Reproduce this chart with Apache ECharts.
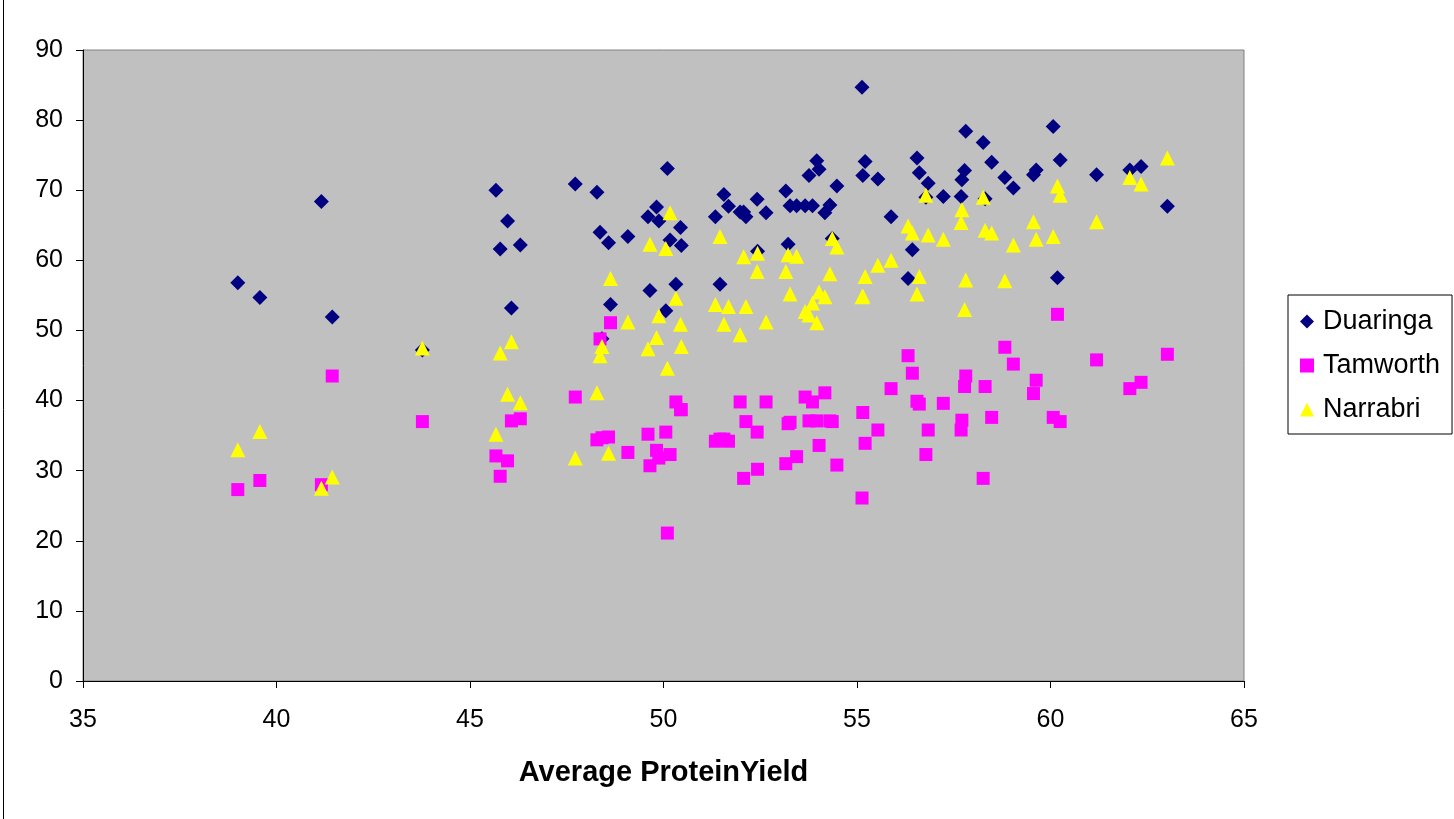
<!DOCTYPE html>
<html>
<head>
<meta charset="utf-8">
<script src="https://cdn.jsdelivr.net/npm/echarts@6/dist/echarts.min.js"></script>
<style>
  html, body { margin: 0; padding: 0; background: #fff; }
  #chart { width: 1454px; height: 819px; }
</style>
</head>
<body>
<div id="chart"></div>
<script>
// Average protein yield per site (x shared by the three sites)
const proteinYield = [39.00, 39.57, 41.16, 41.44, 43.77, 45.67, 45.78, 45.97, 46.07, 46.30,
  47.72, 48.28, 48.36, 48.41, 48.58, 48.63, 49.08, 49.60, 49.65, 49.82,
  49.88, 50.06, 50.10, 50.17, 50.32, 50.44, 50.46, 51.34, 51.46, 51.56,
  51.68, 51.98, 52.07, 52.13, 52.42, 52.43, 52.65, 53.16, 53.22, 53.27,
  53.44, 53.66, 53.76, 53.85, 53.96, 54.02, 54.17, 54.30, 54.36, 54.48,
  55.13, 55.15, 55.21, 55.54, 55.88, 56.32, 56.43, 56.55, 56.61, 56.78,
  56.84, 57.23, 57.69, 57.71, 57.78, 57.81, 58.26, 58.31, 58.48, 58.82,
  59.04, 59.56, 59.63, 60.07, 60.18, 60.25, 61.19, 62.05, 62.34, 63.02];

const duaringa = [56.8, 54.7, 68.4, 51.9, 47.2, 70.0, 61.6, 65.6, 53.2, 62.2,
  70.9, 69.7, 64.0, 48.8, 62.5, 53.7, 63.4, 66.2, 55.7, 67.6,
  65.6, 52.8, 73.1, 62.9, 56.6, 64.7, 62.1, 66.2, 56.6, 69.4,
  67.7, 66.9, 66.9, 66.2, 68.7, 61.3, 66.8, 69.9, 62.3, 67.8,
  67.8, 67.8, 72.1, 67.8, 74.2, 73.0, 66.8, 67.9, 63.1, 70.6,
  84.7, 72.1, 74.1, 71.6, 66.2, 57.4, 61.5, 74.6, 72.5, 69.0,
  71.0, 69.1, 69.1, 71.5, 72.8, 78.4, 76.8, 68.8, 74.0, 71.8,
  70.3, 72.2, 72.9, 79.1, 57.5, 74.3, 72.2, 72.9, 73.4, 67.7];

const tamworth = [27.3, 28.6, 28.0, 43.5, 37.0, 32.1, 29.2, 31.4, 37.1, 37.4,
  40.5, 34.4, 48.8, 34.7, 34.8, 51.1, 32.6, 35.2, 30.7, 32.9,
  31.8, 35.5, 21.1, 32.3, 39.8, 38.7, 38.7, 34.2, 34.5, 34.5,
  34.2, 39.8, 28.9, 37.0, 35.5, 30.2, 39.8, 31.0, 36.7, 36.9,
  32.0, 40.5, 37.1, 39.8, 37.1, 33.6, 41.1, 37.1, 37.0, 30.8,
  26.1, 38.3, 33.9, 35.8, 41.7, 46.4, 43.9, 39.9, 39.5, 32.3,
  35.8, 39.6, 35.8, 37.2, 42.0, 43.5, 28.9, 42.0, 37.6, 47.6,
  45.2, 41.0, 42.9, 37.6, 52.3, 37.0, 45.8, 41.7, 42.6, 46.6];

const narrabri = [33.0, 35.6, 27.5, 29.1, 47.5, 35.2, 46.8, 40.9, 48.4, 39.7,
  31.8, 41.1, 46.4, 47.7, 32.5, 57.4, 51.2, 47.4, 62.3, 49.0,
  52.1, 61.7, 44.6, 66.8, 54.6, 50.9, 47.7, 53.7, 63.4, 50.9,
  53.4, 49.4, 60.5, 53.4, 58.4, 61.0, 51.2, 58.4, 60.8, 55.2,
  60.6, 52.7, 52.2, 53.9, 51.1, 55.5, 54.8, 58.1, 63.1, 61.9,
  54.8, 54.9, 57.7, 59.3, 60.0, 64.9, 63.9, 55.2, 57.7, 69.3,
  63.6, 63.0, 65.4, 67.2, 53.0, 57.2, 69.0, 64.3, 63.9, 57.1,
  62.2, 65.5, 63.0, 63.4, 70.6, 69.3, 65.5, 71.8, 70.9, 74.6];

const seriesNames = ['Duaringa', 'Tamworth', 'Narrabri'];
const seriesColors = ['#000080', '#FF00FF', '#FFFF00'];
const seriesSymbols = ['diamond', 'rect', 'triangle'];
const seriesSizes = [15, 13, 15];
const seriesValues = [duaringa, tamworth, narrabri];

const font = 'Liberation Sans, Arial, sans-serif';
const chart = echarts.init(document.getElementById('chart'));

function pairUp(ys) {
    return proteinYield.map((x, i) => [x, ys[i]]);
}

const option = {
    animation: false,
    backgroundColor: '#ffffff',
    // thin frame line on the left edge of the chart area
    graphic: [{
        type: 'line',
        shape: { x1: 3.5, y1: 0, x2: 3.5, y2: 819 },
        style: { stroke: '#000', lineWidth: 1 }
    }],
    grid: {
        left: 83, top: 50, right: 210, bottom: 138,
        show: true,
        backgroundColor: '#C0C0C0',
        borderColor: '#808080',
        borderWidth: 1
    },
    legend: {
        orient: 'vertical',
        left: 1288, top: 295,
        padding: [13, 12, 11, 12],
        itemGap: 17,
        itemWidth: 14, itemHeight: 14,
        backgroundColor: '#fff',
        borderColor: '#000',
        borderWidth: 1,
        borderRadius: 0,
        textStyle: { fontFamily: font, fontSize: 27, color: '#000', padding: [0, 0, 0, 4] },
        data: seriesNames
    },
    xAxis: {
        type: 'value',
        min: 35, max: 65, interval: 5,
        name: 'Average ProteinYield',
        nameLocation: 'middle',
        nameGap: 77,
        nameTextStyle: { fontFamily: font, fontSize: 29, fontWeight: 'bold', color: '#000' },
        axisLine: { show: true, onZero: false, lineStyle: { color: '#000', width: 1 } },
        axisTick: { show: true, length: 7, inside: false, lineStyle: { color: '#000' } },
        axisLabel: { margin: 27, fontFamily: font, fontSize: 25, color: '#000' },
        splitLine: { show: false }
    },
    yAxis: {
        type: 'value',
        min: 0, max: 90, interval: 10,
        axisLine: { show: true, onZero: false, lineStyle: { color: '#000', width: 1 } },
        axisTick: { show: true, length: 7, inside: false, lineStyle: { color: '#000' } },
        axisLabel: { margin: 20, fontFamily: font, fontSize: 25, color: '#000' },
        splitLine: { show: false }
    },
    series: seriesNames.map((name, k) => ({
        name: name,
        type: 'scatter',
        symbol: seriesSymbols[k],
        symbolSize: seriesSizes[k],
        itemStyle: { color: seriesColors[k], opacity: 1 },
        emphasis: { disabled: true },
        data: pairUp(seriesValues[k])
    }))
};

chart.setOption(option);
</script>
</body>
</html>
